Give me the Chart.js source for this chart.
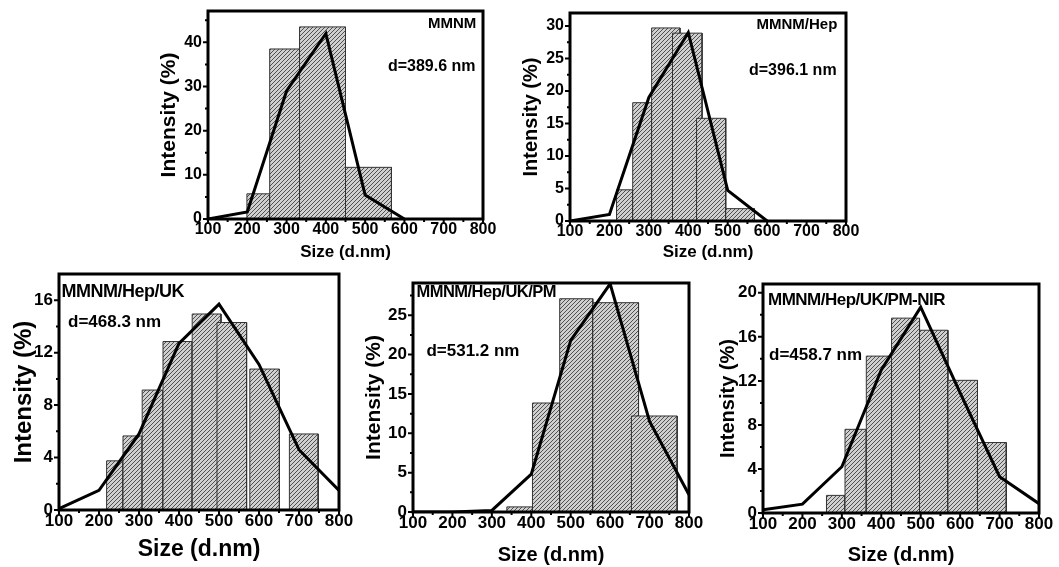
<!DOCTYPE html>
<html>
<head>
<meta charset="utf-8">
<script src="https://cdn.jsdelivr.net/npm/chart.js@4.4.1/dist/chart.umd.min.js"></script>
<style>
html,body{margin:0;padding:0;background:#fff;width:1059px;height:567px;overflow:hidden}
canvas{position:absolute}
</style>
</head>
<body>
<canvas id="p1"></canvas><canvas id="p2"></canvas><canvas id="p3"></canvas><canvas id="p4"></canvas><canvas id="p5"></canvas>
<script>
// ── shared axis ──
const sizeTicks=[100,200,300,400,500,600,700,800];
const sizeMinor=[150,250,350,450,550,650,750];
const lineSizes=[100,200,300,400,500,600,700,800];

// ── MMNM ──
const mmnmLo=[199,257,333,450];
const mmnmHi=[257,333,450,567];
const mmnmPct=[5.7,38.5,43.5,11.7];
const mmnmLine=[0,1.6,29,42,5.4,0];
const mmnmTicks=[0,10,20,30,40];
const mmnmMinor=[5,15,25,35,45];

// ── MMNM/Hep ──
const hepLo=[218,259,307,360,421,495];
const hepHi=[259,307,379,435,495,568];
const hepPct=[4.8,18.2,29.7,28.9,15.8,1.9];
const hepLine=[0,1,19,29,4.7,0];
const hepTicks=[0,5,10,15,20,25,30];
const hepMinor=[2.5,7.5,12.5,17.5,22.5,27.5];

// ── MMNM/Hep/UK ──
const ukLo=[219,260,308,360,433,495,577,676];
const ukHi=[260,308,360,433,505,569,651,748];
const ukPct=[3.75,5.65,9.15,12.85,14.95,14.3,10.75,5.8];
const ukLine=[0.1,1.5,5.8,12.7,15.7,11.1,4.6,1.5];
const ukTicks=[0,4,8,12,16];
const ukMinor=[2,6,10,14];

// ── MMNM/Hep/UK/PM ──
const pmLo=[338,403,472,556,654];
const pmHi=[403,472,556,672,770];
const pmPct=[0.65,13.85,27.1,26.6,12.2];
const pmLine=[0,0,0.2,4.8,21.8,29,11.5,2.2];
const pmTicks=[0,5,10,15,20,25];
const pmMinor=[2.5,7.5,12.5,17.5,22.5,27.5];

// ── MMNM/Hep/UK/PM-NIR ──
const nirLo=[261,308,362,426,497,569,644];
const nirHi=[308,362,426,497,569,644,717];
const nirPct=[1.6,7.6,14.25,17.7,16.6,12.05,6.4];
const nirLine=[0.3,0.8,4.2,13.0,18.7,10.9,3.3,0.85];
const nirTicks=[0,4,8,12,16,20];
const nirMinor=[2,6,10,14,18];

const FONT="'Liberation Sans', Arial, sans-serif";

function hatch(){
  const c=document.createElement('canvas');c.width=c.height=4;
  const g=c.getContext('2d');
  g.fillStyle='#cfcfcf';g.fillRect(0,0,4,4);
  g.fillStyle='#505050';
  for(let i=0;i<4;i++)g.fillRect(i,3-i,1,1);
  return g.createPattern(c,'repeat');
}

// frame, ticks and the in-plot labels
const framePlugin={id:'frame',afterDraw(chart,args,o){
  const {ctx,chartArea:a,scales:{x,y}}=chart;
  ctx.save();
  ctx.strokeStyle='#000';ctx.lineWidth=2;ctx.beginPath();
  sizeTicks.forEach(v=>{const p=x.getPixelForValue(v);ctx.moveTo(p,a.bottom);ctx.lineTo(p,a.bottom+5);});
  sizeMinor.forEach(v=>{const p=x.getPixelForValue(v);ctx.moveTo(p,a.bottom);ctx.lineTo(p,a.bottom+3);});
  o.yMajor.forEach(v=>{const p=y.getPixelForValue(v);ctx.moveTo(a.left,p);ctx.lineTo(a.left-5,p);});
  o.yMinor.filter(v=>v<y.max).forEach(v=>{const p=y.getPixelForValue(v);ctx.moveTo(a.left,p);ctx.lineTo(a.left-3,p);});
  ctx.stroke();
  ctx.lineWidth=3;ctx.strokeRect(a.left,a.top,a.right-a.left,a.bottom-a.top);
  ctx.fillStyle='#000';ctx.textAlign='left';ctx.textBaseline='middle';
  o.notes.forEach(n=>{
    ctx.font=`bold ${n.size}px ${FONT}`;
    ctx.letterSpacing=n.ls||'0px';
    ctx.fillText(n.text,x.getPixelForValue(n.x),y.getPixelForValue(n.y));
  });
  ctx.restore();
}};

const panels=[
  {id:'p1',lo:mmnmLo,hi:mmnmHi,pct:mmnmPct,line:mmnmLine,yTicks:mmnmTicks,yMinor:mmnmMinor,yMax:47.1,
   plot:[208,11,483,219],yTitleX:170,yTitleSize:21,xTitleY:253,xTitleSize:17,tickSize:16,
   notes:[{text:'MMNM',x:660,y:44.1,size:15},{text:'d=389.6 nm',x:558,y:34.6,size:16}]},
  {id:'p2',lo:hepLo,hi:hepHi,pct:hepPct,line:hepLine,yTicks:hepTicks,yMinor:hepMinor,yMax:32,
   plot:[570,13,846,221],yTitleX:531,yTitleSize:20,xTitleY:253,xTitleSize:17,tickSize:16,
   notes:[{text:'MMNM/Hep',x:573,y:30.2,size:15},{text:'d=396.1 nm',x:554,y:23.1,size:16}]},
  {id:'p3',lo:ukLo,hi:ukHi,pct:ukPct,line:ukLine,yTicks:ukTicks,yMinor:ukMinor,yMax:18,
   plot:[59,274,339,510],yTitleX:24,yTitleSize:24,xTitleY:549,xTitleSize:23,tickSize:17,
   notes:[{text:'MMNM/Hep/UK',x:106,y:16.6,size:18,ls:'-0.5px'},{text:'d=468.3 nm',x:122.5,y:14.35,size:17}]},
  {id:'p4',lo:pmLo,hi:pmHi,pct:pmPct,line:pmLine,yTicks:pmTicks,yMinor:pmMinor,yMax:29.1,
   plot:[413,283,689,512],yTitleX:375,yTitleSize:21,xTitleY:555,xTitleSize:20,tickSize:17,
   notes:[{text:'MMNM/Hep/UK/PM',x:108.6,y:27.84,size:16.5,ls:'-0.5px'},{text:'d=531.2 nm',x:134,y:20.4,size:17}]},
  {id:'p5',lo:nirLo,hi:nirHi,pct:nirPct,line:nirLine,yTicks:nirTicks,yMinor:nirMinor,yMax:20.8,
   plot:[763,284,1039,513],yTitleX:728,yTitleSize:20,xTitleY:555,xTitleSize:20,tickSize:17,
   notes:[{text:'MMNM/Hep/UK/PM-NIR',x:112.7,y:19.34,size:17,ls:'-0.5px'},{text:'d=458.7 nm',x:115.2,y:14.34,size:17}]}
];

const PAD_T=8,PAD_R=16;
const pat=hatch();

panels.forEach(p=>{
  const [pl,pt,pr,pb]=p.plot;
  const left=Math.round(p.yTitleX-p.yTitleSize*0.6);
  const top=pt-PAD_T;
  const right=pr+PAD_R;
  const bottom=Math.round(p.xTitleY+p.xTitleSize*0.6);
  const yW=pl-left,xH=bottom-pb;
  const cv=document.getElementById(p.id);
  cv.width=right-left;cv.height=bottom-top;
  cv.style.left=left+'px';cv.style.top=top+'px';

  const bars=p.lo.map((l,i)=>({
    data:[{x:l,y:0},{x:l,y:p.pct[i]},{x:p.hi[i],y:p.pct[i]},{x:p.hi[i],y:0}],
    fill:'origin',backgroundColor:pat,borderColor:'#333',borderWidth:1,
    pointRadius:0,tension:0,order:p.lo.length-i+1
  }));
  const curve={data:p.line.map((v,i)=>({x:lineSizes[i],y:v})),
    fill:false,borderColor:'#000',borderWidth:3,pointRadius:0,tension:0,order:0};

  const tickFont={family:FONT,size:p.tickSize,weight:'bold'};
  new Chart(cv,{
    type:'line',
    data:{datasets:[curve,...bars]},
    options:{responsive:false,animation:false,devicePixelRatio:1,
      layout:{padding:{top:PAD_T,right:PAD_R,left:0,bottom:0}},
      plugins:{legend:{display:false},tooltip:{enabled:false},
        frame:{yMajor:p.yTicks,yMinor:p.yMinor,notes:p.notes}},
      scales:{
        x:{type:'linear',min:100,max:800,
          afterBuildTicks:s=>{s.ticks=sizeTicks.map(v=>({value:v}));},
          afterFit:s=>{s.height=xH;s.paddingLeft=s.paddingRight=s.paddingTop=s.paddingBottom=0;},
          grid:{display:false,drawTicks:false},border:{display:false},
          ticks:{color:'#000',font:tickFont,padding:1,autoSkip:false,maxRotation:0,minRotation:0},
          title:{display:true,text:'Size (d.nm)',color:'#000',padding:0,
            font:{family:FONT,size:p.xTitleSize,weight:'bold'}}},
        y:{type:'linear',min:0,max:p.yMax,
          afterBuildTicks:s=>{s.ticks=p.yTicks.map(v=>({value:v}));},
          afterFit:s=>{s.width=yW;s.paddingLeft=s.paddingRight=s.paddingTop=s.paddingBottom=0;},
          grid:{display:false,drawTicks:false},border:{display:false},
          ticks:{color:'#000',font:tickFont,padding:6,autoSkip:false},
          title:{display:true,text:'Intensity (%)',color:'#000',padding:0,
            font:{family:FONT,size:p.yTitleSize,weight:'bold'}}}
      }},
    plugins:[framePlugin]
  });
});
</script>
</body>
</html>
